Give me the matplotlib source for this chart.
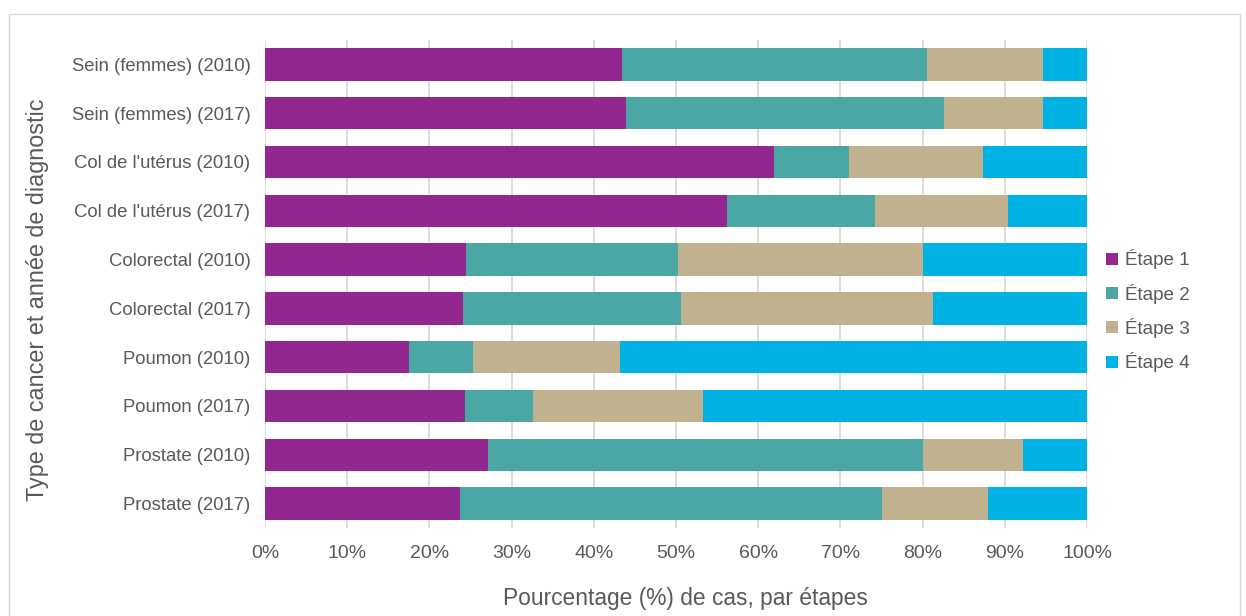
import numpy as np
import matplotlib.pyplot as plt
from matplotlib.patches import Rectangle
from matplotlib.ticker import PercentFormatter

plt.rcParams['font.family'] = ['Liberation Sans', 'DejaVu Sans']

categories = ['Sein (femmes) (2010)', 'Sein (femmes) (2017)',
              "Col de l'utérus (2010)", "Col de l'utérus (2017)",
              'Colorectal (2010)', 'Colorectal (2017)',
              'Poumon (2010)', 'Poumon (2017)',
              'Prostate (2010)', 'Prostate (2017)']
stage1 = [43.4, 43.9, 61.9, 56.2, 24.5, 24.1, 17.5, 24.3, 27.1, 23.7]
stage2 = [37.1, 38.7, 9.1, 18.0, 25.8, 26.5, 7.8, 8.3, 53.0, 51.4]
stage3 = [14.2, 12.1, 16.3, 16.2, 29.7, 30.7, 17.9, 20.7, 12.1, 12.8]
stage4 = [5.3, 5.3, 12.7, 9.6, 20.0, 18.7, 56.8, 46.7, 7.8, 12.1]
labels = ['Étape 1', 'Étape 2', 'Étape 3', 'Étape 4']
colors = ['#92278F', '#4AA7A4', '#C0B18F', '#00B2E3']

txt = '#595959'
W, H = 1246, 616
fig = plt.figure(figsize=(W / 100, H / 100), dpi=100)
fig.patches.append(Rectangle((9 / W, -0.01), 1231 / W, 1 - 14 / H + 0.01,
                             transform=fig.transFigure, fill=False,
                             edgecolor='#D9D9D9', linewidth=1))
ax = fig.add_axes([265 / W, 1 - 528 / H, 822 / W, 488 / H])

y = np.arange(len(categories))
left = np.zeros(len(categories))
for vals, lab, col in zip([stage1, stage2, stage3, stage4], labels, colors):
    ax.barh(y, vals, left=left, height=0.66, color=col, label=lab, zorder=3)
    left += np.array(vals)

ax.set_xlim(0, 100)
ax.set_ylim(len(categories) - 0.5, -0.5)
ax.set_yticks(y)
ax.set_yticklabels(categories)
ax.set_xticks(np.arange(0, 101, 10))
ax.xaxis.set_major_formatter(PercentFormatter(decimals=0))
ax.tick_params(axis='both', length=0, colors=txt)
ax.tick_params(axis='x', labelsize=14, pad=12)
ax.tick_params(axis='y', labelsize=13.3, pad=10.5)
ax.grid(axis='x', color='#D9D9D9', linewidth=1.3, zorder=0)
for s in ax.spines.values():
    s.set_visible(False)

fig.text(685 / W, 1 - 605 / H, 'Pourcentage (%) de cas, par étapes',
         fontsize=16.4, color=txt, ha='center', va='baseline')
fig.text(38 / W, 1 - 300 / H, 'Type de cancer et année de diagnostic',
         fontsize=16.8, color=txt, ha='center', va='center', rotation=90)

leg = ax.legend(loc='center left', bbox_to_anchor=(1.003, 0.445), frameon=False,
                fontsize=13.6, handlelength=0.6, handleheight=0.6,
                handletextpad=0.4, labelspacing=0.76, labelcolor=txt)

fig.savefig('out.png', dpi=100)
